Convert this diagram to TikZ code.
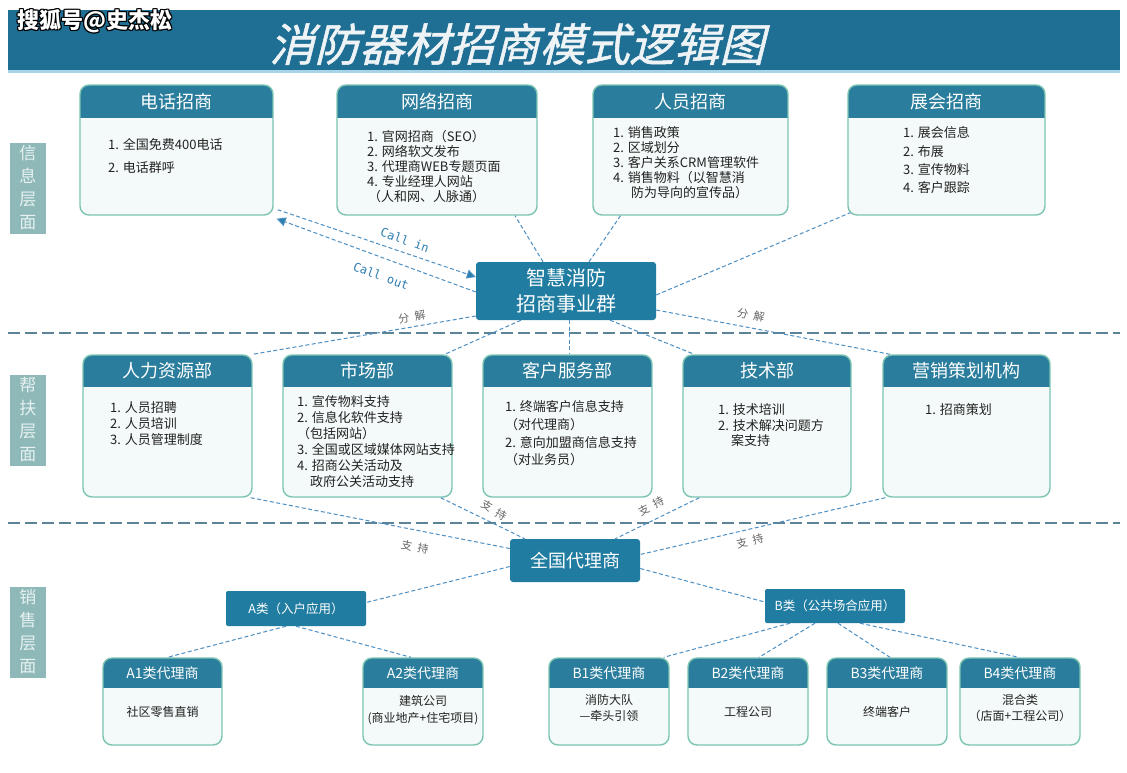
\documentclass[tikz,border=0pt]{standalone}
\usepackage{fontspec}
\setmainfont{Noto Sans CJK SC}
\newfontfamily\titlefont[FakeSlant=0.25,FakeBold=1.2]{Noto Sans CJK SC}
\newfontfamily\monof{DejaVu Sans Mono}
\usetikzlibrary{arrows.meta,fit,calc}
\definecolor{band}{HTML}{1F6E93}
\definecolor{bandline}{HTML}{A9D3E6}
\definecolor{headblue}{HTML}{2A7D9C}
\definecolor{hubblue}{HTML}{207CA0}
\definecolor{cardline}{HTML}{7CC4B2}
\definecolor{cardbody}{HTML}{F4FAF9}
\definecolor{layerfill}{HTML}{8FB9B8}
\definecolor{layertext}{HTML}{E6F1F1}
\definecolor{connblue}{HTML}{4D8FC2}
\definecolor{arrowblue}{HTML}{2E7EB0}
\definecolor{sepline}{HTML}{5D8398}
\definecolor{bodytext}{HTML}{222222}
\definecolor{notegray}{HTML}{666666}
\definecolor{titlewhite}{HTML}{EEF3F6}
\newcommand\mycard[8]{%
  \fill[cardbody,rounded corners=9pt] (#2,#3) rectangle (#4,#5);
  \begin{scope}
    \clip[rounded corners=9pt] (#2,#3) rectangle (#4,#5);
    \fill[headblue] (#2,#3) rectangle (#4,#6);
  \end{scope}
  \node[cardframe,fit={(#2,#3)(#4,#5)}] (#1) {};
  \node[#8] (#1-t) at ({(#2+#4)/2},{(#3+#6)/2}) {#7};
}
\begin{document}
\begin{tikzpicture}[x=1pt,y=-1pt,
  cardframe/.style={draw=cardline,line width=1.4pt,rounded corners=9pt,inner sep=0pt},
  cardtitle/.style={text=white,font=\fontsize{18}{18}\selectfont,inner sep=0pt},
  smalltitle/.style={text=white,font=\fontsize{14}{14}\selectfont,inner sep=0pt},
  bodytxt/.style={text=bodytext,align=left,inner sep=0pt,anchor=north west},
  cbody/.style={text=bodytext,align=center,inner sep=0pt,font=\fontsize{12}{16.5}\selectfont},
  layer/.style={fill=layerfill,text=layertext,font=\fontsize{17}{23}\selectfont,align=center,inner sep=0pt,minimum width=36pt,minimum height=91pt},
  hub/.style={fill=hubblue,text=white,rounded corners=3pt,align=center,inner sep=0pt},
  conn/.style={draw=connblue,line width=1pt,dash pattern=on 4pt off 2.5pt},
  sep/.style={draw=sepline,line width=2.2pt,dash pattern=on 12pt off 5pt},
  note/.style={text=notegray,font=\fontsize{11}{11}\selectfont,inner sep=0pt},
  callnote/.style={text=arrowblue,font=\monof\fontsize{12}{12}\selectfont,inner sep=0pt},
  wm/.style={font=\bfseries\fontsize{22}{22}\selectfont,inner sep=0pt},
  tip/.style={-{Triangle[length=9pt,width=9pt,fill=arrowblue]}}
]
\useasboundingbox (0,0) rectangle (1127,772);
\fill[white] (0,0) rectangle (1127,772);

% title band
\fill[band] (8,10) rectangle (1120,70);
\fill[bandline] (8,70) rectangle (1120,73);
\node[text=titlewhite,font=\titlefont\fontsize{45}{45}\selectfont,inner sep=0pt] (title) at (517,44) {消防器材招商模式逻辑图};
\foreach \dx/\dy [count=\k] in {-1.3/0,1.3/0,0/-1.3,0/1.3,-0.9/-0.9,0.9/0.9,-0.9/0.9,0.9/-0.9}
  \node[wm,text=black] (wmshadow\k) at ({95+\dx},{21+\dy}) {搜狐号@史杰松};
\node[wm,text=white] (wm) at (95,21) {搜狐号@史杰松};

% layer labels
\node[layer] (L1) at (28,188) {信\\息\\层\\面};
\node[layer] (L2) at (28,420) {帮\\扶\\层\\面};
\node[layer] (L3) at (28,632) {销\\售\\层\\面};

% separators
\draw[sep] (8,333) -- (1120,333);
\draw[sep] (8,523) -- (1120,523);

% top row
\mycard{tel}{80}{85}{273}{215}{118}{电话招商}{cardtitle}
\node[bodytxt,font=\fontsize{13}{23}\selectfont] (tel-b) at (108,138.5) {1. 全国免费400电话\\2. 电话群呼};
\mycard{net}{337}{85}{537}{215}{118}{网络招商}{cardtitle}
\node[bodytxt,font=\fontsize{13}{15}\selectfont] (net-b) at (367,130.5) {1. 官网招商（SEO）\\2. 网络软文发布\\3. 代理商WEB专题页面\\4. 专业经理人网站\\\hspace{1pt}（人和网、人脉通）};
\mycard{ppl}{593}{85}{788}{215}{118}{人员招商}{cardtitle}
\node[bodytxt,font=\fontsize{13}{15}\selectfont] (ppl-b) at (613,126.5) {1. 销售政策\\2. 区域划分\\3. 客户关系CRM管理软件\\4. 销售物料（以智慧消\\\hspace{18pt}防为导向的宣传品）};
\mycard{expo}{848}{85}{1045}{215}{118}{展会招商}{cardtitle}
\node[bodytxt,font=\fontsize{13}{18.3}\selectfont] (expo-b) at (903,126.5) {1. 展会信息\\2. 布展\\3. 宣传物料\\4. 客户跟踪};

% hub
\node[hub,minimum width=180pt,minimum height=58pt,font=\fontsize{20}{26}\selectfont] (hub) at (566,291) {智慧消防\\招商事业群};

% middle row
\mycard{hr}{83}{355}{252}{497}{387}{人力资源部}{cardtitle}
\node[bodytxt,font=\fontsize{13}{16}\selectfont] (hr-b) at (110,401.5) {1. 人员招聘\\2. 人员培训\\3. 人员管理制度};
\mycard{mkt}{283}{355}{452}{497}{387}{市场部}{cardtitle}
\node[bodytxt,font=\fontsize{13}{16}\selectfont] (mkt-b) at (297,395.5) {1. 宣传物料支持\\2. 信息化软件支持\\（包括网站）\\3. 全国或区域媒体网站支持\\4. 招商公关活动及\\\hspace{13pt}政府公关活动支持};
\mycard{cs}{483}{355}{652}{497}{387}{客户服务部}{cardtitle}
\node[bodytxt,font=\fontsize{13}{17.7}\selectfont] (cs-b) at (505,400.5) {1. 终端客户信息支持\\（对代理商）\\2. 意向加盟商信息支持\\（对业务员）};
\mycard{tech}{683}{355}{851}{497}{387}{技术部}{cardtitle}
\node[bodytxt,font=\fontsize{13}{15.5}\selectfont] (tech-b) at (718,403.5) {1. 技术培训\\2. 技术解决问题方\\\hspace{13pt}案支持};
\mycard{plan}{883}{355}{1050}{497}{387}{营销策划机构}{cardtitle}
\node[bodytxt,font=\fontsize{13}{15.5}\selectfont] (plan-b) at (925,403.5) {1. 招商策划};

% sales layer
\node[hub,minimum width=130pt,minimum height=43pt,font=\fontsize{18}{18}\selectfont] (agent) at (575,560.5) {全国代理商};
\node[hub,rounded corners=2pt,minimum width=140pt,minimum height=35pt,font=\fontsize{12.5}{12.5}\selectfont] (acls) at (296,608.5) {A类（入户应用）};
\node[hub,rounded corners=2pt,minimum width=140pt,minimum height=34pt,font=\fontsize{12.5}{12.5}\selectfont] (bcls) at (835,606) {B类（公共场合应用）};

\mycard{a1}{103}{658}{222}{745}{688}{A1类代理商}{smalltitle}
\node[cbody] (a1-b) at (162.5,712) {社区零售直销};
\mycard{a2}{363}{658}{483}{745}{688}{A2类代理商}{smalltitle}
\node[cbody] (a2-b) at (423,710) {建筑公司\\(商业地产+住宅项目)};
\mycard{b1}{549}{658}{669}{745}{688}{B1类代理商}{smalltitle}
\node[cbody] (b1-b) at (609,708) {消防大队\\—牵头引领};
\mycard{b2}{688}{658}{808}{745}{688}{B2类代理商}{smalltitle}
\node[cbody] (b2-b) at (748,712) {工程公司};
\mycard{b3}{827}{658}{947}{745}{688}{B3类代理商}{smalltitle}
\node[cbody] (b3-b) at (887,712) {终端客户};
\mycard{b4}{960}{658}{1080}{745}{688}{B4类代理商}{smalltitle}
\node[cbody] (b4-b) at (1020,708) {混合类\\（店面+工程公司）};

% connectors: information layer
\draw[conn,tip] ([xshift=4pt,yshift=6pt]tel.south east) -- ([yshift=14pt]hub.west);
\draw[conn,tip] ([yshift=-1pt]hub.west) -- ([xshift=3pt,yshift=-3pt]tel.south east);
\node[callnote,rotate=-20] (callin) at (405,240) {Call in};
\node[callnote,rotate=-20] (callout) at (381,276) {Call out};
\draw[conn] ([xshift=-23pt]hub.north) -- ([xshift=78pt]net.south);
\draw[conn] ([xshift=23pt]hub.north) -- ([xshift=-70pt]ppl.south);
\draw[conn] ([yshift=-4pt]hub.east) -- ([xshift=3pt,yshift=3pt]expo.south west);

% connectors: support layer
\draw[conn] ([yshift=-25pt]hub.west) -- (hr.north east);
\draw[conn] ([xshift=-45pt]hub.south) -- ([xshift=-8pt]mkt.north east);
\draw[conn] ([xshift=3pt]hub.south) -- ([xshift=1.5pt]cs.north);
\draw[conn] ([xshift=44pt]hub.south) -- ([xshift=12pt]tech.north west);
\draw[conn] ([yshift=-19pt]hub.east) -- ([xshift=8pt]plan.north west);
\node[note,rotate=10] (fj1) at (412,317) {分\,\,\,解};
\node[note,rotate=-12] (fj2) at (751,315) {分\,\,\,解};

% connectors: to national agent
\draw[conn] ([xshift=-2pt]hr.south east) -- ([yshift=12pt]agent.west);
\draw[conn] ([xshift=-12pt]mkt.south east) -- ([xshift=15pt]agent.north west);
\draw[conn] ([xshift=17pt]tech.south west) -- ([xshift=-25pt]agent.north east);
\draw[conn] ([xshift=3pt]plan.south west) -- ([yshift=6pt]agent.east);
\node[note,rotate=-12] (zc1) at (415,547) {支\,\,\,持};
\node[note,rotate=-30] (zc2) at (494,510) {支\,\,\,持};
\node[note,rotate=28] (zc3) at (651,506) {支\,\,\,持};
\node[note,rotate=14] (zc4) at (750,541) {支\,\,\,持};

% connectors: sales layer
\draw[conn] ([yshift=-6pt]agent.west) -- ([yshift=6pt]acls.east);
\draw[conn] ([yshift=-8pt]agent.east) -- ([yshift=4pt]bcls.west);
\draw[conn] ([xshift=-10pt]acls.south) -- ([xshift=5pt]a1.north);
\draw[conn] (acls.south) -- ([xshift=-12pt]a2.north);
\draw[conn] ([xshift=-45pt]bcls.south) -- ([xshift=-6pt]b1.north east);
\draw[conn] ([xshift=-20pt]bcls.south) -- ([xshift=11pt]b2.north);
\draw[conn] ([xshift=3pt]bcls.south) -- ([xshift=3pt]b3.north);
\draw[conn] ([xshift=25pt]bcls.south) -- ([xshift=-1pt]b4.north);
\end{tikzpicture}
\end{document}
